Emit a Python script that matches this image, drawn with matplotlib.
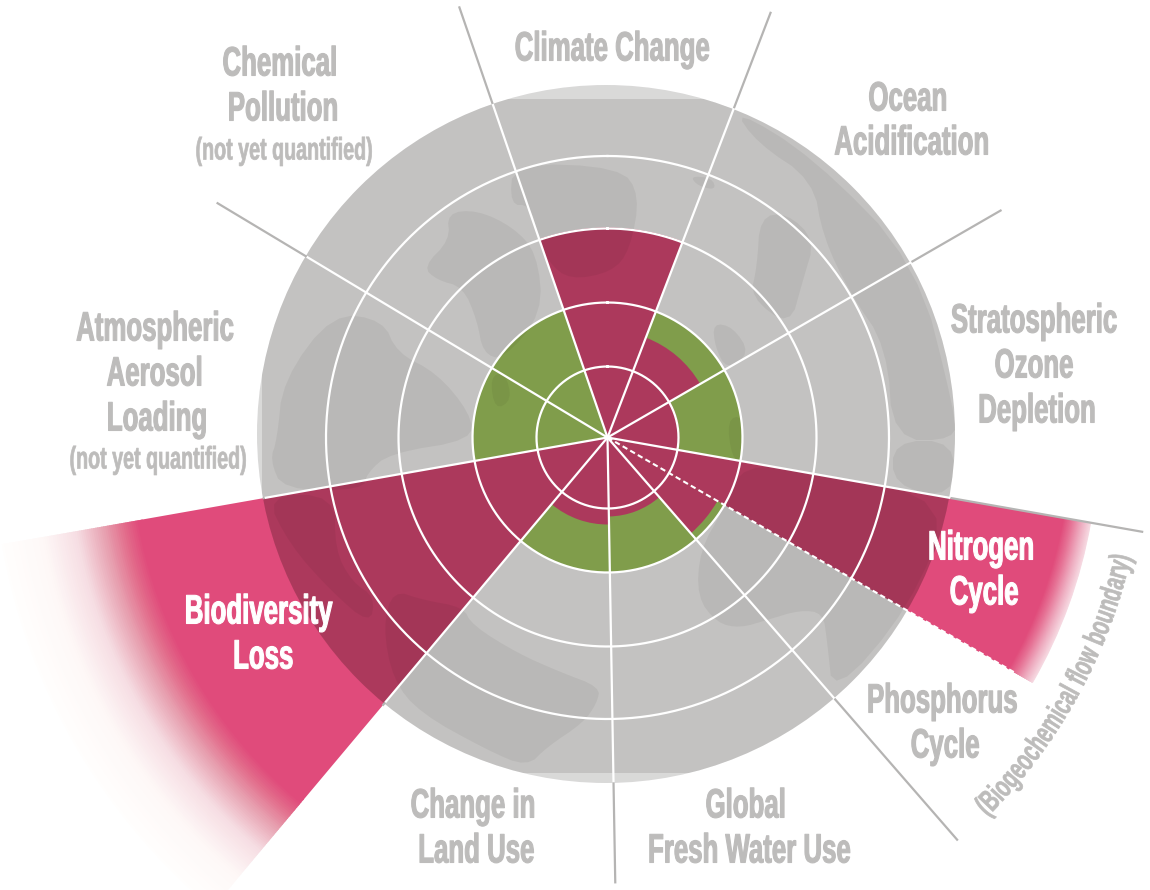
"""Planetary boundaries wheel: status wedges over a faint globe."""
import matplotlib

matplotlib.use("Agg")
import matplotlib.pyplot as plt  # noqa: E402
import numpy as np  # noqa: E402
from matplotlib import patheffects  # noqa: E402
from matplotlib.colors import LinearSegmentedColormap  # noqa: E402
from matplotlib.font_manager import FontProperties  # noqa: E402
from matplotlib.patches import Circle, PathPatch, Rectangle  # noqa: E402
from matplotlib.path import Path  # noqa: E402
from matplotlib.text import Text  # noqa: E402
from matplotlib.textpath import TextToPath  # noqa: E402
from matplotlib.transforms import Affine2D, Bbox  # noqa: E402

W, H = 1150, 890

# sectors, clockwise from north (degrees), radii in picture pixels
boundaries = [
    "Climate Change", "Ocean Acidification", "Stratospheric Ozone Depletion",
    "Nitrogen Cycle", "Phosphorus Cycle", "Global Fresh Water Use",
    "Change in Land Use", "Biodiversity Loss", "Atmospheric Aerosol Loading",
    "Chemical Pollution",
]
sector_start = [341, 21, 60, 100, 120, 139, 179, 220, 260, 301]
sector_end = [381, 60, 100, 120, 139, 179, 220, 260, 301, 341]
status_radius = [210, 107, 72, 461, 127, 79, 87, 474, 0, 0]
safe_radius = 135
fade_sectors = {"Nitrogen Cycle": 490, "Biodiversity Loss": 615}

ring_radii = [71, 135, 209, 281.5]
spoke_angles = [341, 21, 60, 100, 139, 179, 220, 260, 301]
spoke_ends = [456, 456, 455, 544, 534, 446, 350, 350, 456]
dashed_angle = 120
dashed_end = 472

# label lines, one entry per line of text
label_text = [
    "Climate Change", "Chemical", "Pollution", "(not yet quantified)",
    "Ocean", "Acidification", "Stratospheric", "Ozone", "Depletion",
    "Atmospheric", "Aerosol", "Loading", "(not yet quantified)",
    "Nitrogen", "Cycle", "Biodiversity", "Loss", "Phosphorus", "Cycle",
    "Change in", "Land Use", "Global", "Fresh Water Use",
]
label_x = [612, 280, 283, 284, 908, 912, 1034, 1034, 1037, 155, 155, 157, 158,
           981, 984, 258, 263, 942, 945, 473, 476, 746, 749]
label_y = [47, 62, 107, 149, 97, 141, 319, 364, 409, 327, 372, 417, 458,
           546, 591, 610, 655, 699, 744, 804, 849, 804, 849]
label_small = [3, 12]
label_white = [13, 14, 15, 16]
label_nudge = {6: 20}  # keeps the full-width text box of this line inside the figure
arc_label = "(Biogeochemical flow boundary)"

# darker land on the globe, picture pixels
land_shapes = [
    [(393, 590), (423, 600), (463, 607), (472, 625), (517, 653), (560, 672), (600, 687),
     (597, 703), (583, 723), (547, 747), (527, 767), (487, 750), (420, 713), (393, 680),
     (383, 627)],
    [(447, 213), (477, 210), (513, 227), (537, 253), (543, 313), (503, 360), (483, 353),
     (477, 320), (463, 287), (437, 280), (423, 267), (450, 240)],
    [(513, 163), (620, 167), (640, 195), (630, 250), (612, 272), (570, 280), (548, 262),
     (538, 235), (530, 205), (510, 205)],
    [(690, 176), (712, 178), (716, 190), (698, 186)],
    [(277, 440), (283, 380), (333, 313), (383, 320), (397, 353), (437, 373), (470, 413),
     (473, 440), (390, 453), (367, 473), (363, 490), (283, 490), (270, 460)],
    [(265, 495), (335, 495), (335, 550), (352, 582), (375, 597), (370, 625), (330, 590),
     (290, 545)],
    [(733, 108), (813, 157), (917, 263), (955, 413), (955, 440), (893, 440), (887, 347),
     (850, 293), (823, 237), (813, 180), (757, 143)],
    [(760, 217), (787, 213), (815, 240), (803, 280), (790, 327), (750, 297), (757, 267)],
    [(713, 323), (733, 327), (750, 353), (727, 370), (715, 347)],
    [(743, 463), (817, 473), (953, 500), (910, 607), (833, 697), (827, 640), (823, 613),
     (800, 610), (767, 620), (740, 628), (717, 623), (697, 597), (700, 550), (723, 510)],
    [(893, 441), (955, 441), (953, 498), (893, 486)],
    [(490, 377), (505, 372), (512, 400), (495, 410)],
    [(727, 420), (743, 415), (743, 462), (732, 458)],
]

GREEN_RAW = "#a6ce64"
PINK = "#e04b7b"
LABEL_GREY = "#bdbcbb"
SPOKE_GREY = "#b5b4b3"
SHADE = "#0c0700"
FONT = ["Liberation Sans"]
NARROW = 0.63

ORIGIN = (607.5, 437.5)
RMAX = 650


class Squeeze(patheffects.AbstractPathEffect):
    """Draw a text line narrower around its own middle, with a little extra stroke."""

    def __init__(self, factor, stroke=0.0, nudge=0):
        super().__init__()
        self.factor = factor
        self.stroke = stroke
        self.nudge = nudge

    def draw_path(self, renderer, gc, tpath, affine, rgbFace=None):
        ext = tpath.get_extents()
        mid = (ext.x0 + ext.x1) / 2
        squeezed = Affine2D().translate(-mid, 0).scale(self.factor, 1).translate(mid, 0) + affine
        squeezed = squeezed + Affine2D().translate(self.nudge, 0)
        gc0 = renderer.new_gc()
        gc0.copy_properties(gc)
        gc0.set_linewidth(self.stroke)
        if self.stroke:
            gc0.set_foreground(rgbFace)
        renderer.draw_path(gc0, tpath, squeezed, rgbFace)
        gc0.restore()


class NarrowText(Text):
    """Text whose reported box is as narrow as what Squeeze draws."""

    def get_window_extent(self, renderer=None, dpi=None):
        box = super().get_window_extent(renderer, dpi)
        mid = (box.x0 + box.x1) / 2
        half = box.width / 2 * NARROW
        return Bbox.from_extents(mid - half, box.y0, mid + half, box.y1)


def soften(points, rounds=2):
    # corner cutting so the land outlines look less like polygons
    pts = np.array(points, float)
    for _ in range(rounds):
        nxt = np.roll(pts, -1, axis=0)
        pts = np.column_stack([0.75 * pts + 0.25 * nxt, 0.25 * pts + 0.75 * nxt]).reshape(-1, 2)
    return np.vstack([pts, pts[:1]])


fig = plt.figure(figsize=(W / 100, H / 100), dpi=100, facecolor="white")
ax = fig.add_axes(
    [(ORIGIN[0] - RMAX) / W, (H - ORIGIN[1] - RMAX) / H, 2 * RMAX / W, 2 * RMAX / H],
    projection="polar",
)
ax.set_theta_zero_location("N")
ax.set_theta_direction(-1)
ax.set_ylim(0, RMAX)
ax.axis("off")

# green safe zone, then pink status wedges; the globe shades them further down
for start, end in zip(sector_start, sector_end):
    ax.bar(np.radians((start + end) / 2), safe_radius, np.radians(end - start),
           color=GREEN_RAW, linewidth=0, zorder=1)
for name, start, end, r in zip(boundaries, sector_start, sector_end, status_radius):
    if r:
        ax.bar(np.radians((start + end) / 2), r, np.radians(end - start),
               color=PINK, linewidth=0, zorder=2)
    if name in fade_sectors:
        if name == "Biodiversity Loss":
            stops = [(0, PINK), (0.1, "#e26a8a"), (0.25, "#e7a0b0"), (0.45, "#f6dde3"),
                     (0.7, "#fef8f7"), (1, "#fffefd")]
        else:
            stops = [(0, PINK), (0.3, "#e67396"), (0.7, "#efb3c5"), (1, "#f7dde5")]
        cmap = LinearSegmentedColormap.from_list(name, stops)
        rr = np.linspace(r, fade_sectors[name], 70)
        # outermost first, each band slipping under the next so no seams show
        for k in range(len(rr) - 2, -1, -1):
            bottom = rr[k] - (2 if k == 0 else 0)
            top = rr[k + 1] + (1.5 if k < len(rr) - 2 else 0)
            ax.bar(np.radians((start + end) / 2), top - bottom, np.radians(end - start),
                   bottom=bottom, color=cmap(k / (len(rr) - 2)), linewidth=0, zorder=2)

# globe as translucent layers in picture pixels, so it multiplies what lies below
px = Affine2D().scale(1, -1).translate(0, H)
GLOBE = (606, 434)
GLOBE_R = 349
disc = Circle(GLOBE, GLOBE_R, transform=px, facecolor=SHADE, alpha=0.153, linewidth=0, zorder=3)
ax.add_artist(disc)
clip_disc = Circle(GLOBE, GLOBE_R, transform=px)
map_rect = Rectangle((262, 99), 720, 674, transform=px, facecolor=SHADE, alpha=0.106,
                     linewidth=0, zorder=3)
ax.add_artist(map_rect)
map_rect.set_clip_path(clip_disc)
land = PathPatch(
    Path.make_compound_path(*[Path(soften(s), closed=True) for s in land_shapes]),
    transform=px, facecolor=SHADE, alpha=0.05, linewidth=0, zorder=3,
)
ax.add_artist(land)
land.set_clip_path(clip_disc)

# spokes: white on the globe, grey outside it
for angle, end in zip(spoke_angles, spoke_ends):
    th = np.radians(angle)
    edge = min(end, GLOBE_R + 4 * np.cos(th))
    ax.plot([th, th], [0, edge], color="white", lw=1.6, solid_capstyle="butt", zorder=5)
    if end > edge:
        ax.plot([th, th], [edge, end], color=SPOKE_GREY, lw=1.6, solid_capstyle="butt", zorder=5)
ax.plot(np.radians([dashed_angle, dashed_angle]), [0, dashed_end], color="white", lw=1.5,
        dashes=(2.6, 1.6), zorder=5)

circle_theta = np.linspace(0, 2 * np.pi, 400)
for r in ring_radii:
    ax.plot(circle_theta, np.full_like(circle_theta, r), color="white", lw=1.6, zorder=5)

# labels
for i, (txt, x, y) in enumerate(zip(label_text, label_x, label_y)):
    small = i in label_small
    nudge = label_nudge.get(i, 0)
    fig.add_artist(NarrowText(
        (x - nudge) / W, 1 - (y + 2.5) / H, txt, transform=fig.transFigure, ha="center",
        va="center", family=FONT, weight="bold", fontsize=22.5 if small else 29.5,
        color="white" if i in label_white else LABEL_GREY,
        path_effects=[Squeeze(NARROW, 0.5 if small else 0.8, nudge)],
    ))

# curved label, one glyph at a time along the circle
ARC_SIZE = 22
arc_prop = FontProperties(family=FONT, weight="bold", size=ARC_SIZE)
measure = TextToPath()
prefix = [measure.get_text_width_height_descent(arc_label[:i], arc_prop, False)[0] * 100 / 72
          if i else 0 for i in range(len(arc_label) + 1)]
arc_r = 529
arc_start = 135
for i, ch in enumerate(arc_label):
    if ch == " ":
        continue
    s = (prefix[i] + prefix[i + 1]) / 2 * NARROW
    deg = arc_start - np.degrees(s / arc_r)
    ax.text(np.radians(deg), arc_r, ch, rotation=180 - deg, rotation_mode="anchor",
            ha="center", va="center", family=FONT, weight="bold", fontsize=ARC_SIZE,
            color=LABEL_GREY, path_effects=[Squeeze(NARROW, 0.5)], zorder=6)

fig.savefig("out.png", dpi=100, facecolor="white")
